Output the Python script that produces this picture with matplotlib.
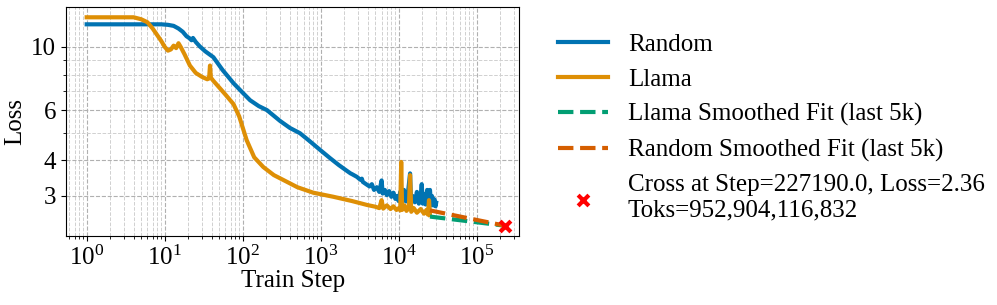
import numpy as np
import matplotlib.pyplot as plt
from matplotlib.ticker import NullFormatter, LogLocator

plt.rcParams['font.family'] = ['Liberation Serif', 'DejaVu Serif']
plt.rcParams['mathtext.fontset'] = 'stix'

# Random init run
random_steps = [1, 3, 6, 9, 11, 13, 15, 17, 19, 21, 22, 23, 25, 28, 33, 42, 55, 76, 100,
                124, 160, 204, 300, 400, 540, 700, 980, 1300, 1700, 2200, 2400, 2500,
                2900, 3200, 3350, 3450, 3800, 4200, 4500, 4800, 5200, 5600, 6000, 6200,
                6600, 7000, 7500, 8000, 8500, 9000, 9400, 9900, 10400, 11000, 11600,
                12300, 13000, 13900, 14300, 15000, 16000, 17000, 18000, 19000, 19600,
                20200, 21000, 22000, 23000, 24000, 25000, 25800, 26500, 27500, 28500,
                29500, 30000]
random_loss = [12.0, 12.0, 12.0, 12.0, 11.95, 11.85, 11.6, 11.3, 10.9, 10.7, 10.55, 10.75,
               10.4, 10.05, 9.65, 9.2, 8.3, 7.46, 6.9, 6.5, 6.2, 6.0, 5.5, 5.2, 4.98,
               4.7, 4.35, 4.08, 3.85, 3.66, 3.6, 3.58, 3.5, 3.42, 3.45, 3.36, 3.3, 3.24,
               3.3, 3.15, 3.22, 3.1, 3.4, 3.06, 3.15, 3.02, 3.12, 2.98, 3.08, 2.93, 3.0,
               2.88, 3.1, 2.92, 3.15, 2.87, 3.05, 3.6, 2.86, 3.0, 2.85, 3.1, 2.82, 2.98,
               3.3, 2.82, 3.05, 2.8, 3.15, 2.8, 3.15, 2.78, 3.0, 2.78, 2.92, 2.76, 2.84]

# Llama init run
llama_steps = [1, 2, 4, 5, 6, 7, 8, 9, 10, 11, 12, 13, 14, 15, 16, 18, 21, 25, 30, 35,
               37, 38, 39, 42, 50, 60, 76, 90, 112, 140, 183, 250, 333, 500, 800, 1450,
               2500, 3900, 5000, 5600, 6000, 6300, 7000, 7800, 8500, 9300, 10000, 10400,
               10700, 11000, 11800, 12500, 13400, 13900, 14400, 15500, 17000, 19000,
               21000, 22500, 23500, 24300, 25000]
llama_loss = [12.7, 12.7, 12.7, 12.5, 12.2, 11.6, 11.0, 10.5, 10.0, 9.7, 9.8, 10.1, 9.9,
              10.3, 10.0, 9.4, 8.6, 8.1, 7.85, 7.7, 7.75, 8.6, 7.8, 7.6, 7.2, 6.8, 6.3,
              5.7, 4.71, 4.1, 3.79, 3.55, 3.41, 3.22, 3.08, 2.98, 2.88, 2.79, 2.75, 2.72,
              2.9, 2.71, 2.78, 2.7, 2.76, 2.68, 2.72, 2.67, 3.95, 2.68, 2.78, 2.66, 2.72,
              3.55, 2.64, 2.72, 2.62, 2.7, 2.6, 2.68, 2.58, 2.9, 2.57]

# smoothed power-law fits over the last 5k steps, extrapolated to the crossing
fit_steps = [25000, 227190]
llama_fit = [2.54, 2.36]
random_fit = [2.67, 2.36]

cross_step = 227190.0
cross_loss = 2.36
cross_toks = 952904116832

fig = plt.figure(figsize=(9.97, 3.05), dpi=100)
ax = fig.add_axes([0.066, 0.226, 0.455, 0.751])

ax.plot(random_steps, random_loss, color='#0173b2', lw=3, label='Random')
ax.plot(llama_steps, llama_loss, color='#de8f05', lw=3, label='Llama')
ax.plot(fit_steps, llama_fit, '--', color='#029e73', lw=3,
        label='Llama Smoothed Fit (last 5k)')
ax.plot(fit_steps, random_fit, '--', color='#d55e00', lw=3,
        label='Random Smoothed Fit (last 5k)')
ax.scatter([cross_step], [cross_loss], marker='x', color='red', s=60, linewidths=3,
           zorder=5,
           label=f'Cross at Step={cross_step}, Loss={cross_loss:.2f}\nToks={cross_toks:,}')

ax.set_xscale('log')
ax.set_yscale('log')
ax.set_xlim(0.54, 3.5e5)
ax.set_ylim(2.17, 13.8)

ax.set_yticks([3, 4, 6, 10])
ax.set_yticklabels(['3', '4', '6', '10'])
ax.yaxis.set_minor_locator(LogLocator(subs='all'))
ax.yaxis.set_minor_formatter(NullFormatter())
ax.xaxis.set_minor_locator(LogLocator(subs='all', numticks=20))
ax.xaxis.set_minor_formatter(NullFormatter())
ax.tick_params(labelsize=18)

ax.grid(True, which='major', linestyle='--', color='#b0b0b0', lw=0.8)
ax.grid(True, which='minor', linestyle='--', color='#d0d0d0', lw=0.7)

ax.set_xlabel('Train Step', fontsize=18, labelpad=0)
ax.set_ylabel('Loss', fontsize=18)
ax.yaxis.set_label_coords(-0.088, 0.5)

ax.legend(loc='center left', bbox_to_anchor=(1.035, 0.474), frameon=False, fontsize=18,
          handlelength=2.0, labelspacing=0.5)

fig.savefig('out.png', dpi=100)
